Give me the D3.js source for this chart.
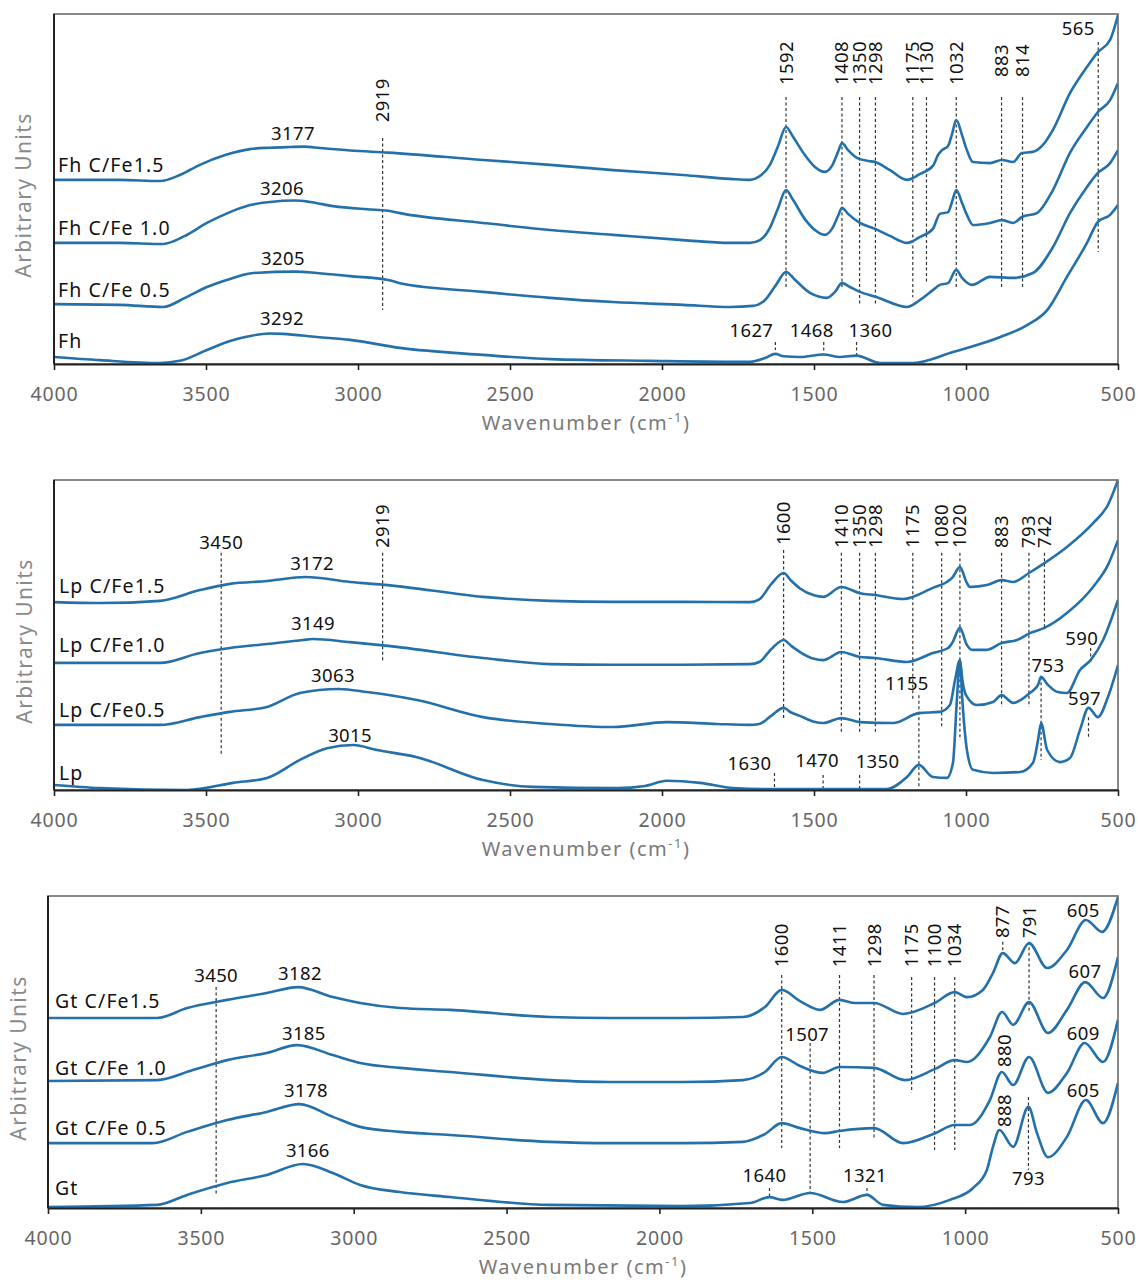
<!DOCTYPE html>
<html>
<head>
<meta charset="utf-8">
<script src="https://cdn.jsdelivr.net/npm/d3@7"></script>
<style>
  body { margin: 0; background: #fff; }
  text { font-family: "Noto Sans", "Open Sans", sans-serif; }
</style>
</head>
<body>
<svg id="chart" width="1138" height="1286"></svg>
<script>
// ---------- FTIR spectra: [wavenumber (cm-1), intensity (arbitrary units, 0-100 per panel)] ----------

// Ferrihydrite series
const fhCFe15 = [[4000,52.6],[3783,52.6],[3651,52.3],[3586,54.0],[3520,56.9],[3437,59.7],[3355,61.4],[3289,61.8],[3224,62.0],[3177,62.1],[3125,61.7],[3026,61.0],[2901,60.4],[2589,58.3],[2368,56.9],[2161,55.4],[1931,54.0],[1776,52.9],[1711,52.6],[1678,53.7],[1645,56.9],[1618,62.3],[1592,67.7],[1569,64.9],[1530,59.7],[1497,56.3],[1464,54.9],[1441,56.6],[1421,60.6],[1408,63.1],[1388,61.1],[1359,58.9],[1322,58.0],[1299,57.7],[1250,55.4],[1194,52.6],[1151,54.3],[1109,56.6],[1092,59.7],[1079,61.1],[1059,62.3],[1046,65.7],[1032,69.7],[1013,65.4],[997,61.1],[977,57.7],[921,57.4],[882,58.3],[845,57.7],[816,60.3],[780,60.6],[747,62.6],[714,66.9],[658,77.4],[602,84.9],[566,89.1],[526,92.6],[500,99.7]];
const fhCFe10 = [[4000,34.6],[3783,34.6],[3641,34.3],[3569,36.6],[3497,40.3],[3421,43.4],[3355,45.4],[3289,46.3],[3206,46.7],[3158,46.3],[3082,45.1],[2970,44.2],[2901,43.8],[2862,43.1],[2589,40.3],[2368,38.3],[2161,36.9],[1931,35.4],[1776,34.6],[1711,34.6],[1678,35.4],[1645,38.9],[1618,44.6],[1592,49.7],[1569,46.9],[1530,41.4],[1497,38.3],[1464,36.9],[1441,38.6],[1421,42.3],[1408,44.6],[1388,42.9],[1349,40.3],[1299,38.6],[1250,36.6],[1194,34.6],[1151,36.3],[1109,38.6],[1086,42.9],[1059,43.4],[1046,46.3],[1032,49.7],[1013,46.0],[997,42.6],[977,39.7],[921,40.3],[882,41.1],[845,40.3],[816,42.0],[767,43.1],[714,49.7],[658,60.3],[602,67.7],[566,72.0],[526,75.4],[500,80.3]];
const fhCFe05 = [[4000,17.1],[3783,16.9],[3641,16.3],[3569,18.9],[3497,22.0],[3421,24.3],[3345,26.0],[3205,26.4],[3135,26.0],[3026,25.1],[2901,24.0],[2862,23.1],[2589,20.6],[2368,18.9],[2161,17.7],[1931,16.9],[1776,16.3],[1701,16.6],[1661,18.3],[1625,22.6],[1592,26.3],[1562,24.0],[1513,20.3],[1457,18.9],[1431,20.6],[1408,23.1],[1382,22.0],[1349,20.6],[1293,19.1],[1194,16.3],[1151,18.3],[1109,21.1],[1086,22.6],[1059,23.1],[1032,26.9],[1013,24.6],[980,22.6],[921,24.9],[845,24.6],[780,26.0],[714,33.4],[658,43.1],[602,50.6],[566,54.6],[526,57.4],[500,61.1]];
const fh = [[4000,2.0],[3849,1.1],[3651,0.3],[3586,0.9],[3497,4.0],[3421,6.6],[3355,8.0],[3292,8.7],[3247,8.6],[3135,7.7],[3026,6.9],[2862,4.6],[2589,2.6],[2368,1.4],[2039,0.9],[1711,0.6],[1661,1.7],[1627,2.9],[1600,2.2],[1546,2.0],[1468,2.7],[1415,2.0],[1360,2.4],[1283,0.3],[1174,0.3],[1043,3.4],[887,7.7],[799,11.1],[733,15.4],[668,24.9],[602,34.6],[566,40.6],[526,42.6],[500,45.4]];

// Lepidocrocite series
const lpCFe15 = [[4000,60.6],[3849,60.3],[3651,61.0],[3520,64.5],[3421,66.5],[3299,67.4],[3172,68.7],[3026,67.1],[2901,66.1],[2589,62.3],[2368,61.0],[2161,60.7],[1931,60.7],[1711,60.6],[1680,61.5],[1640,66.5],[1600,70.0],[1575,67.5],[1546,65.0],[1500,62.8],[1470,62.3],[1410,65.5],[1349,63.5],[1299,62.9],[1207,61.6],[1109,65.2],[1063,67.1],[1045,68.5],[1020,71.9],[998,67.0],[987,65.5],[931,66.1],[883,67.7],[845,67.1],[793,70.0],[742,73.2],[668,78.4],[582,86.1],[533,92.0],[500,100]];
const lpCFe10 = [[4000,41.0],[3651,41.0],[3520,44.2],[3421,45.8],[3299,47.1],[3181,48.4],[3149,48.7],[3026,47.7],[2901,46.5],[2589,42.6],[2368,40.6],[2161,40.4],[1931,40.4],[1711,40.6],[1680,41.3],[1640,45.5],[1600,48.4],[1575,46.5],[1546,44.5],[1500,42.3],[1470,41.9],[1410,44.5],[1349,42.9],[1299,42.6],[1194,41.3],[1109,44.2],[1059,45.8],[1045,47.5],[1020,52.3],[998,47.0],[980,45.2],[931,45.2],[883,47.4],[832,48.4],[790,50.6],[742,52.3],[668,57.1],[582,65.5],[533,72.6],[500,80.6]];
const lpCFe05 = [[4000,21.0],[3651,21.0],[3520,23.5],[3421,25.2],[3299,26.8],[3191,31.3],[3063,32.6],[2970,31.6],[2806,29.0],[2589,23.5],[2368,21.3],[2161,20.3],[1984,21.9],[1819,21.3],[1711,21.0],[1680,21.3],[1640,24.0],[1600,26.5],[1575,25.0],[1546,23.9],[1500,22.0],[1470,21.6],[1410,23.2],[1349,21.9],[1240,21.6],[1155,24.8],[1086,25.2],[1053,27.4],[1036,35.5],[1020,41.9],[1012,35.5],[1000,30.6],[964,27.4],[911,28.4],[883,30.6],[845,28.1],[790,31.3],[763,33.9],[753,36.5],[733,34.2],[698,31.6],[668,31.3],[625,38.7],[590,41.9],[549,48.4],[500,61.3]];
const lp = [[4000,1.6],[3849,0.6],[3562,0],[3411,2.3],[3299,3.9],[3191,9.7],[3102,13.5],[3015,14.5],[2938,12.9],[2806,10.6],[2589,3.2],[2424,1.0],[2148,0.6],[2056,1.3],[1984,3.0],[1875,2.3],[1766,0.6],[1655,0.3],[1260,0.3],[1194,4.2],[1155,8.1],[1109,4.2],[1063,3.9],[1043,8.7],[1030,29.0],[1020,41.9],[1012,29.0],[997,12.9],[977,6.5],[911,5.5],[822,5.8],[780,8.7],[763,16.1],[753,21.6],[733,12.9],[691,9.0],[658,10.3],[625,19.4],[597,26.5],[566,23.5],[533,30.0],[500,40.3]];

// Goethite series
const gtCFe15 = [[4000,60.9],[3830,60.9],[3643,60.9],[3545,64.1],[3414,66.7],[3284,68.9],[3182,70.8],[3068,67.6],[2979,65.7],[2849,64.1],[2685,63.5],[2358,61.2],[2162,60.9],[1923,60.9],[1727,61.2],[1655,64.4],[1600,69.9],[1540,66.3],[1475,63.5],[1411,66.7],[1360,65.7],[1298,65.7],[1203,62.2],[1100,65.7],[1034,69.2],[994,67.6],[942,69.9],[909,75.3],[877,81.7],[837,78.5],[791,84.9],[732,76.9],[667,82.7],[605,92.3],[552,88.5],[500,99.7]];
const gtCFe10 = [[4000,40.7],[3643,41.0],[3526,44.2],[3414,47.4],[3284,49.7],[3185,52.2],[3068,49.0],[2979,46.5],[2849,44.9],[2685,43.6],[2358,41.0],[2162,40.4],[1923,40.4],[1727,41.0],[1655,43.6],[1600,48.4],[1540,45.5],[1465,43.3],[1411,45.2],[1298,44.9],[1197,41.0],[1100,44.5],[1034,47.4],[994,46.8],[919,54.8],[879,62.8],[843,58.7],[791,66.0],[729,56.1],[667,63.5],[607,72.4],[549,67.3],[500,80.4]];
const gtCFe05 = [[4000,20.8],[3657,20.8],[3545,24.4],[3414,28.2],[3284,30.8],[3178,33.3],[3068,29.2],[2979,26.0],[2849,24.4],[2685,23.4],[2358,21.2],[2162,20.8],[1923,20.8],[1727,21.2],[1655,23.7],[1600,27.2],[1540,25.6],[1458,24.0],[1411,24.7],[1298,25.6],[1203,20.8],[1100,23.9],[1034,26.6],[984,26.6],[919,34.6],[880,43.6],[843,39.4],[791,48.4],[729,36.9],[667,43.3],[609,52.9],[549,46.8],[500,60.3]];
const gt = [[4000,0.3],[3643,1.0],[3545,4.2],[3414,8.0],[3284,10.6],[3166,14.1],[3068,11.2],[2979,7.4],[2849,5.1],[2685,3.5],[2358,1.0],[1923,0.6],[1704,1.6],[1640,3.5],[1599,2.6],[1507,4.8],[1400,1.9],[1321,4.2],[1269,1.0],[1157,0.3],[1050,2.6],[974,6.4],[929,12.2],[909,19.6],[888,25.0],[843,19.6],[793,32.4],[765,24.0],[729,16.3],[667,22.8],[605,34.6],[549,27.2],[500,40.1]];

// Series names
const fhNames = ["Fh C/Fe1.5", "Fh C/Fe 1.0", "Fh C/Fe 0.5", "Fh"];
const lpNames = ["Lp C/Fe1.5", "Lp C/Fe1.0", "Lp C/Fe0.5", "Lp"];
const gtNames = ["Gt C/Fe1.5", "Gt C/Fe 1.0", "Gt C/Fe 0.5", "Gt"];

// Band assignments (cm-1) marked with dashed guides
const fhBands = [2919, 1592, 1408, 1350, 1298, 1175, 1130, 1032, 883, 814, 565, 1627, 1468, 1360];
const lpBands = [3450, 2919, 1600, 1410, 1350, 1298, 1175, 1080, 1020, 883, 793, 742, 1155, 753, 590, 597, 1630, 1470, 1350];
const gtBands = [3450, 1600, 1411, 1298, 1175, 1100, 1034, 877, 791, 1507, 793, 1640, 1321, 880, 888];

// O-H stretch maxima and other peak labels (cm-1)
const fhPeaks = [3177, 3206, 3205, 3292];
const lpPeaks = [3172, 3149, 3063, 3015];
const gtPeaks = [3182, 3185, 3178, 3166, 605, 607, 609, 605];

// Axis ticks
const xTicks = [4000, 3500, 3000, 2500, 2000, 1500, 1000, 500];

// ---------- Layout ----------
// band layout: [guide top, guide bottom, label mode (r = rotated, h = horizontal), label y, label dx]
const fhBandLayout = [
  [64.6,15.4,"r",69.1,0],[76.3,22.0,"r",79.7,0],[76.3,22.0,"r",79.7,0],[76.3,16.9,"r",79.7,0],
  [76.3,16.9,"r",79.7,0],[76.3,19.1,"r",79.7,0],[76.3,23.1,"r",79.7,0],[76.3,22.0,"r",79.7,0],
  [76.3,21.7,"r",82.0,0],[76.3,21.7,"r",82.0,0],[92.0,32.0,"h",94.0,-20],
  [6.3,4.0,"h",7.7,-24],[6.3,3.0,"h",7.7,-12],[6.3,2.6,"h",7.7,14]
];
const lpBandLayout = [
  [76.5,11.3,"h",77.9,0],[76.5,41.3,"r",78.1,0],[77.4,22.6,"r",79.0,0],[76.5,18.4,"r",78.1,0],
  [76.5,18.7,"r",78.1,0],[76.5,18.4,"r",78.1,0],[76.5,29.0,"r",78.1,0],[76.5,20.3,"r",78.1,0],
  [76.5,16.1,"r",78.1,0],[76.5,26.8,"r",78.1,0],[76.5,26.8,"r",78.1,0],[76.5,51.6,"r",78.1,0],
  [30.6,0.6,"h",32.3,-12],[36.5,9.7,"h",38.1,7],[45.8,41.0,"h",46.8,-9],[23.5,17.1,"h",27.4,-4],
  [5.5,0.6,"h",6.5,-25],[4.8,0.6,"h",7.4,-6],[4.8,0.6,"h",7.1,18]
];
const gtBandLayout = [
  [70.8,4.2,"h",72.4,0],[74.7,19.2,"r",77.2,0],[74.7,19.2,"r",77.2,0],[74.7,22.4,"r",77.2,0],
  [74.0,36.9,"r",77.2,0],[74.0,18.6,"r",77.2,0],[74.0,18.6,"r",77.2,0],[85.3,81.7,"r",86.5,0],
  [85.3,62.5,"r",86.5,0],[52.9,4.8,"h",53.5,-3],[35.6,12.2,"h",7.4,0],[6.4,3.5,"h",8.3,-5],
  [6.4,4.2,"h",8.3,-2],[null,null,"r",45.2,3],[null,null,"r",26.0,5]
];
// peak label anchors: [wavenumber position, y]
const fhPeakLayout = [[3214,64.0],[3250,48.3],[3247,28.3],[3250,11.1]];
const lpPeakLayout = [[3151,71.0],[3148,51.6],[3082,34.8],[3026,15.5]];
const gtPeakLayout = [[3176,73.1],[3163,53.8],[3156,35.6],[3150,16.3],[614,93.3],[608,73.7],[614,53.8],[614,35.6]];

const panels = [
  { box: {l: 54, r: 1118, t: 14, b: 364}, series: [fhCFe15, fhCFe10, fhCFe05, fh], names: fhNames,
    nameY: [54.9, 36.9, 19.1, 4.6], nameDx: 4, bands: fhBands, bandLayout: fhBandLayout,
    peaks: fhPeaks, peakLayout: fhPeakLayout, yTitleX: 24 },
  { box: {l: 54, r: 1118, t: 480, b: 790}, series: [lpCFe15, lpCFe10, lpCFe05, lp], names: lpNames,
    nameY: [63.5, 44.5, 23.5, 3.2], nameDx: 5, bands: lpBands, bandLayout: lpBandLayout,
    peaks: lpPeaks, peakLayout: lpPeakLayout, yTitleX: 25 },
  { box: {l: 48, r: 1118, t: 896, b: 1208}, series: [gtCFe15, gtCFe10, gtCFe05, gt], names: gtNames,
    nameY: [64.1, 42.6, 23.4, 4.2], nameDx: 7, bands: gtBands, bandLayout: gtBandLayout,
    peaks: gtPeaks, peakLayout: gtPeakLayout, yTitleX: 19 }
];

const LINE_COLOR = "#2470aa";
const svg = d3.select("#chart");
const defs = svg.append("defs");

panels.forEach((p, i) => {
  const {l, r, t, b} = p.box;
  const x = d3.scaleLinear().domain([4000, 500]).range([l, r]);
  const y = d3.scaleLinear().domain([0, 100]).range([b, t]);
  const g = svg.append("g");

  defs.append("clipPath").attr("id", "plot-clip-" + i)
    .append("rect").attr("x", l).attr("y", t).attr("width", r - l).attr("height", b - t + 1);

  // dashed band guides
  const guides = p.bands.map((w, k) => ({w, lay: p.bandLayout[k]})).filter(d => d.lay[0] !== null);
  g.append("g").selectAll("line").data(guides).join("line")
    .attr("x1", d => x(d.w)).attr("x2", d => x(d.w))
    .attr("y1", d => y(d.lay[0])).attr("y2", d => y(d.lay[1]))
    .attr("stroke", "#333").attr("stroke-width", 1.2).attr("stroke-dasharray", "3,2.5");

  // spectra
  const line = d3.line().x(d => x(d[0])).y(d => y(d[1])).curve(d3.curveMonotoneX);
  g.append("g").attr("clip-path", `url(#plot-clip-${i})`)
    .selectAll("path").data(p.series).join("path")
    .attr("d", line).attr("fill", "none")
    .attr("stroke", LINE_COLOR).attr("stroke-width", 2.6).attr("stroke-linejoin", "round");

  // plot frame
  g.append("rect").attr("x", l).attr("y", t).attr("width", r - l).attr("height", b - t)
    .attr("fill", "none").attr("stroke", "#6b6b6b").attr("stroke-width", 1.6);
  g.append("line").attr("x1", l).attr("x2", l).attr("y1", t).attr("y2", b)
    .attr("stroke", "#222").attr("stroke-width", 2);

  // bottom axis
  const axis = d3.axisBottom(x).tickValues(xTicks).tickFormat(d3.format("d"))
    .tickSize(6).tickSizeOuter(0).tickPadding(17);
  const ax = g.append("g").attr("transform", `translate(0,${b})`).call(axis);
  ax.select(".domain").attr("stroke", "#222").attr("stroke-width", 2);
  ax.selectAll(".tick line").attr("stroke", "#222").attr("stroke-width", 1.6);
  ax.selectAll(".tick text").attr("fill", "#666").attr("font-size", 19.5)
    .attr("letter-spacing", 0.8).attr("font-family", "Noto Sans, Open Sans, sans-serif");

  // axis titles
  const xt = g.append("text").attr("x", (l + r) / 2).attr("y", b + 66)
    .attr("text-anchor", "middle").attr("font-size", 20).attr("fill", "#7a7a7a")
    .attr("letter-spacing", 1.5);
  xt.append("tspan").text("Wavenumber (cm");
  xt.append("tspan").text("-1").attr("font-size", 13).attr("dy", -8);
  xt.append("tspan").text(")").attr("dy", 8);

  g.append("text").attr("transform", `translate(${p.yTitleX},${(t + b) / 2 + 6}) rotate(-90)`)
    .attr("text-anchor", "middle").attr("dy", "0.35em").attr("font-size", 21)
    .attr("fill", "#8a8a8a").attr("letter-spacing", 1.4).text("Arbitrary Units");

  // series names
  g.append("g").selectAll("text").data(p.names).join("text")
    .attr("x", l + p.nameDx).attr("y", (d, k) => y(p.nameY[k]))
    .attr("font-size", 19.5).attr("fill", "#111").attr("letter-spacing", 1.1).text(d => d);

  // band labels
  const labels = p.bands.map((w, k) => ({w, lay: p.bandLayout[k]}));
  g.append("g").selectAll("text").data(labels).join("text")
    .attr("font-size", 18.5).attr("fill", "#111").attr("letter-spacing", 0.4)
    .attr("text-anchor", d => d.lay[2] === "r" ? "start" : "middle")
    .attr("transform", d => d.lay[2] === "r"
      ? `translate(${x(d.w) + d.lay[4]},${y(d.lay[3])}) rotate(-90)`
      : `translate(${x(d.w) + d.lay[4]},${y(d.lay[3])})`)
    .attr("dy", d => d.lay[2] === "r" ? "0.35em" : 0)
    .text(d => String(d.w));

  // peak labels
  g.append("g").selectAll("text").data(p.peaks).join("text")
    .attr("x", (d, k) => x(p.peakLayout[k][0])).attr("y", (d, k) => y(p.peakLayout[k][1]))
    .attr("text-anchor", "middle").attr("font-size", 18.5).attr("fill", "#111")
    .attr("letter-spacing", 0.4).text(d => String(d));
});
</script>
</body>
</html>
